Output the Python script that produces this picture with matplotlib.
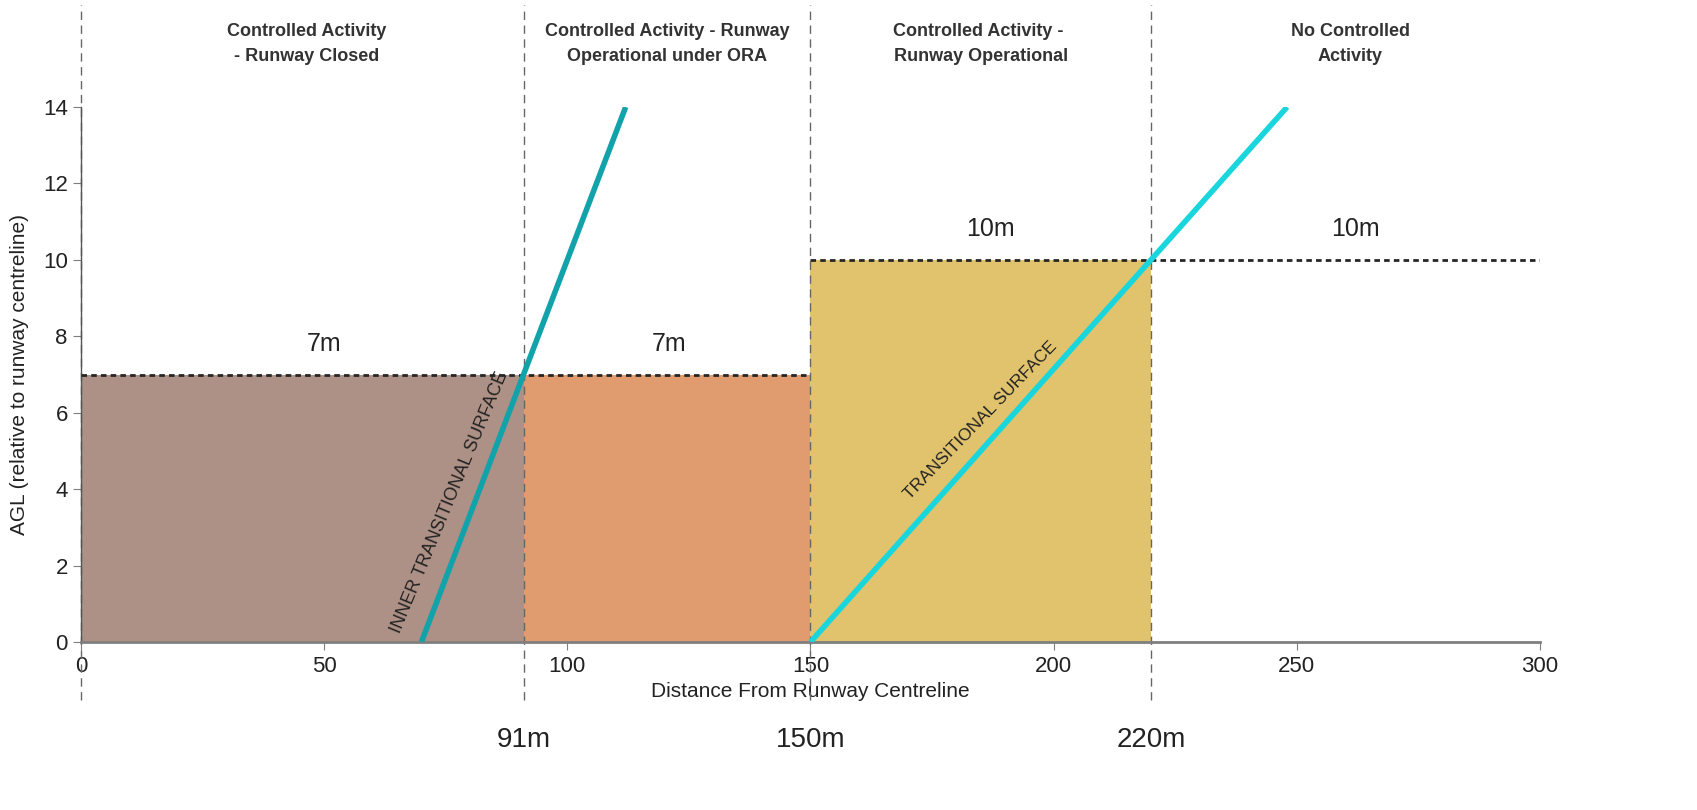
import numpy as np
import matplotlib
matplotlib.use("Agg")
import matplotlib.pyplot as plt

plt.rcParams['font.family'] = ['Liberation Sans Narrow', 'Liberation Sans', 'DejaVu Sans']

# zones (distance from runway centreline, m)
zone_start = [0, 91, 150]
zone_end = [91, 150, 220]
zone_height = [7, 7, 10]
zone_colors = ['#AD9186', '#E09B6F', '#E1C36E']

boundaries = [0, 91, 150, 220]
boundary_labels = ['91m', '150m', '220m']

headers = ['Controlled Activity\n- Runway Closed',
           'Controlled Activity - Runway\nOperational under ORA',
           'Controlled Activity - \nRunway Operational',
           'No Controlled\nActivity']
header_x = [46.5, 120.5, 185, 261]

# height limits
limit_x = [[0, 150], [150, 300]]
limit_y = [7, 10]
limit_text = ['7m', '7m', '10m', '10m']
limit_text_x = [50, 121, 187, 262]
limit_text_y = [7.8, 7.8, 10.8, 10.8]

# surfaces
inner_x = [70, 112]
inner_y = [0, 14]
trans_x = [150, 248]
trans_y = [0, 14]

fig = plt.figure(figsize=(16.97, 8.10), dpi=100)
ax = fig.add_axes([0.0477, 0.2074, 0.8598, 0.6605])

for s, e, h, c in zip(zone_start, zone_end, zone_height, zone_colors):
    ax.bar(s, h, width=e - s, align='edge', color=c, zorder=1)

for xs, y in zip(limit_x, limit_y):
    ax.plot(xs, [y, y], color='#262626', lw=2, ls=(0, (2, 1.5)), zorder=3)

ax.plot(inner_x, inner_y, color='#12A3AA', lw=4, zorder=4, solid_capstyle='butt')
ax.plot(trans_x, trans_y, color='#18D6DC', lw=4, zorder=4, solid_capstyle='butt')

ax.set_xlim(0, 300)
ax.set_ylim(0, 14)

for b in boundaries:
    ax.axvline(b, ymin=-0.108, ymax=1.19, color='#666666', lw=1,
               ls=(0, (6, 4)), clip_on=False, zorder=2)

for x, lab in zip(boundaries[1:], boundary_labels):
    ax.text(x, -2.57, lab, ha='center', va='center', fontsize=20, color='#222222')

for x, h in zip(header_x, headers):
    ax.text(x, 15.65, h, ha='center', va='center', fontsize=13,
            fontweight='bold', color='#333333', linespacing=1.6)

for x, y, t in zip(limit_text_x, limit_text_y, limit_text):
    ax.text(x, y, t, ha='center', va='center', fontsize=18, color='#222222')

ax.text(75.8, 3.65, 'INNER TRANSITIONAL SURFACE', rotation=67.5, ha='center',
        va='center', fontsize=13, color='#222222', zorder=5)
ax.text(185, 5.8, 'TRANSITIONAL SURFACE', rotation=46, ha='center',
        va='center', fontsize=12.5, color='#222222', zorder=5)

ax.set_xticks(np.arange(0, 301, 50))
ax.set_yticks(np.arange(0, 15, 2))
ax.tick_params(axis='both', labelsize=16, colors='#222222')
ax.tick_params(axis='x', length=6, color='#7f7f7f', pad=4)
ax.tick_params(axis='y', length=6, color='#7f7f7f')

ax.spines['top'].set_visible(False)
ax.spines['right'].set_visible(False)
ax.spines['bottom'].set_color('#7f7f7f')
ax.spines['bottom'].set_linewidth(2)
ax.spines['left'].set_color('#555555')
ax.spines['left'].set_linewidth(1)

ax.set_xlabel('Distance From Runway Centreline', fontsize=15, color='#222222', labelpad=4)
ax.set_ylabel('AGL (relative to runway centreline)', fontsize=15, color='#222222', labelpad=10)

fig.savefig('out.png', dpi=100)
